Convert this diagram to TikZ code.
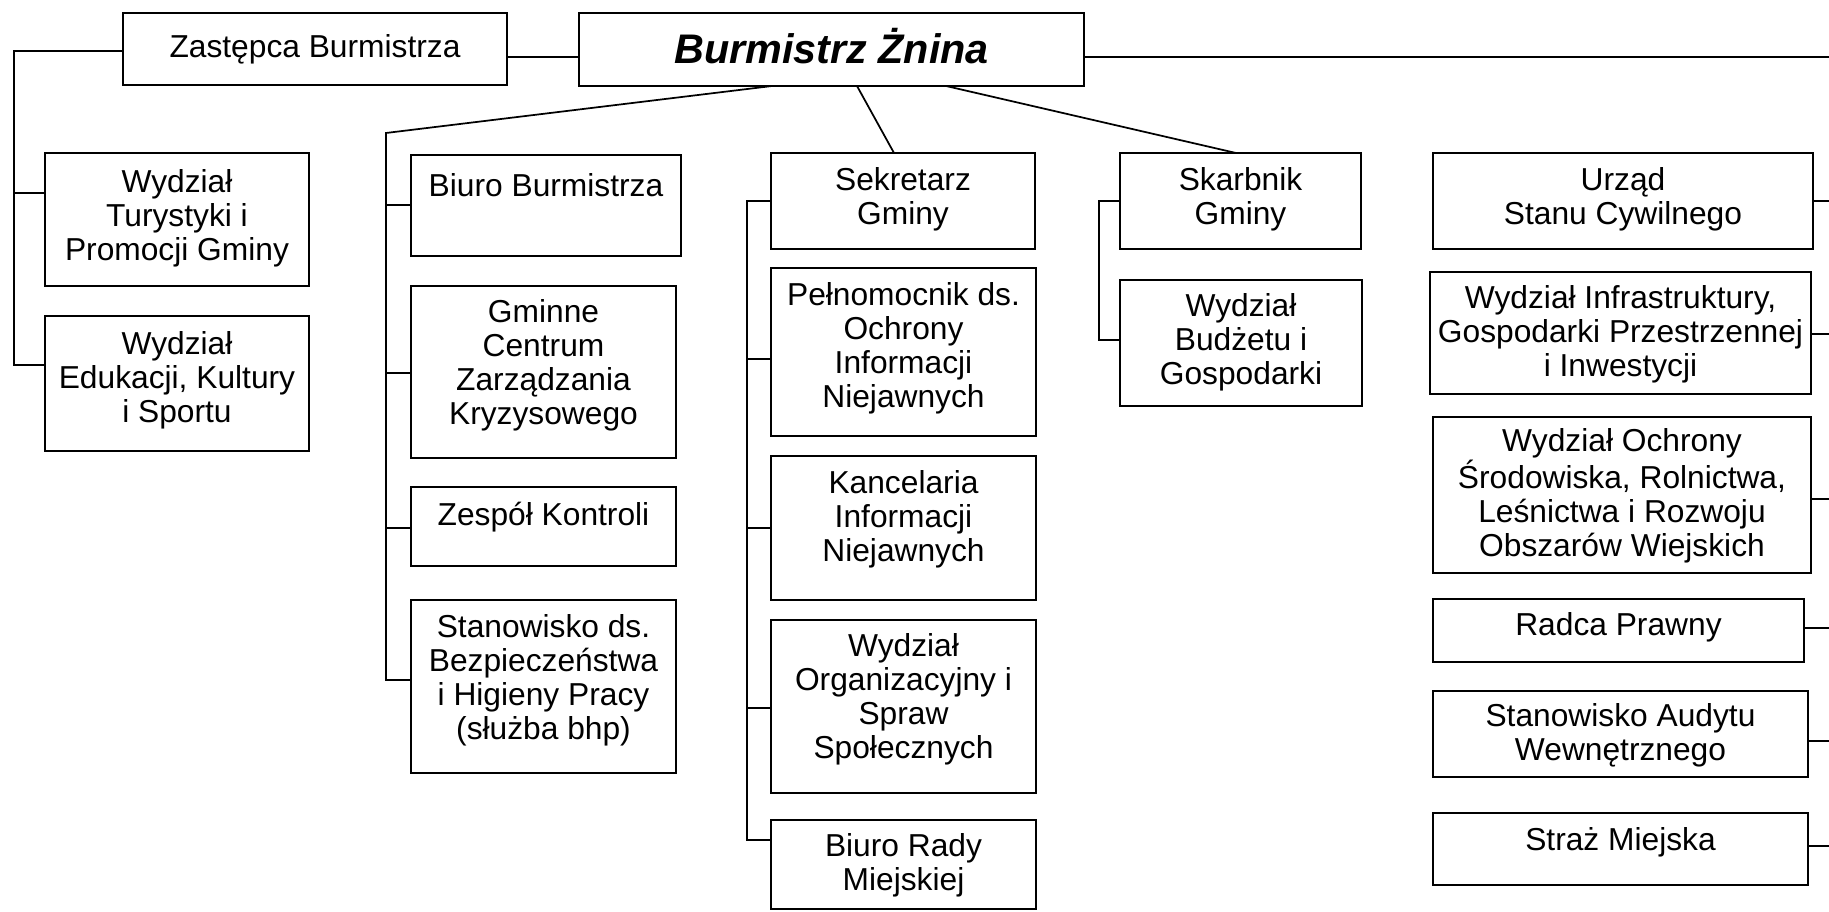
\documentclass[tikz,border=0pt]{standalone}
\usepackage{fontspec}
\setmainfont{Liberation Sans}
\begin{document}
\begin{tikzpicture}[x=0.75pt,y=-0.75pt,
  box/.style={draw=black,line width=0.8pt,rectangle,inner sep=0pt,outer sep=0pt},
  txt/.style={align=center,inner sep=0pt,font=\fontsize{23.8}{25.6}\selectfont},
  conn/.style={draw=black,line width=1.3pt}]
\useasboundingbox (0,0) rectangle (1829,912);
\newcommand\bx[7]{%
  \node[box,minimum width={(#4-#2)*0.75pt},minimum height={(#5-#3)*0.75pt}] (#1) at ({(#2+#4)/2},{(#3+#5)/2}) {};
  \node[txt] (#1-t) at ({(#2+#4)/2},{(#3+#5)/2+#6}) {#7};}
% top
\bx{Zast}{123}{13}{507}{85}{0}{Zastępca Burmistrza}
\node[box,minimum width={(1084-579)*0.75pt},minimum height={(86-13)*0.75pt}] (Burm) at ({(579+1084)/2},{(13+86)/2}) {};
\node[txt,font=\fontsize{31}{34}\selectfont\bfseries\itshape] (Burm-t) at ({(579+1084)/2},46) {Burmistrz Żnina};
% left column
\bx{Tur}{45}{153}{309}{286}{-1}{Wydział\\Turystyki i\\Promocji Gminy}
\bx{Edu}{45}{316}{309}{451}{-3}{Wydział\\Edukacji, Kultury\\i Sportu}
% Biuro column
\bx{Biuro}{411}{155}{681}{256}{-20}{Biuro Burmistrza}
\bx{Gcz}{411}{286}{676}{458}{-7}{Gminne\\Centrum\\Zarządzania\\Kryzysowego}
\bx{Zesp}{411}{487}{676}{566}{-9}{Zespół Kontroli}
\bx{BHP}{411}{600}{676}{773}{-6}{Stanowisko ds.\\Bezpieczeństwa\\i Higieny Pracy\\(służba bhp)}
% Sekretarz column
\bx{Sek}{771}{153}{1035}{249}{-2}{Sekretarz\\Gminy}
\bx{Peln}{771}{268}{1036}{436}{-4}{Pełnomocnik ds.\\Ochrony\\Informacji\\Niejawnych}
\bx{Kanc}{771}{456}{1036}{600}{-9}{Kancelaria\\Informacji\\Niejawnych}
\bx{Org}{771}{620}{1036}{793}{-7}{Wydział\\Organizacyjny i\\Spraw\\Społecznych}
\bx{BRady}{771}{820}{1036}{909}{1}{Biuro Rady\\Miejskiej}
% Skarbnik column
\bx{Skarb}{1120}{153}{1361}{249}{-2}{Skarbnik\\Gminy}
\bx{Budz}{1120}{280}{1362}{406}{-1}{Wydział\\Budżetu i\\Gospodarki}
% right column
\bx{USC}{1433}{153}{1813}{249}{-2}{Urząd\\Stanu Cywilnego}
\bx{Infra}{1430}{272}{1811}{394}{1}{Wydział Infrastruktury,\\Gospodarki Przestrzennej\\i Inwestycji}
\bx{Ochr}{1433}{417}{1811}{573}{1}{Wydział Ochrony\\Środowiska, Rolnictwa,\\Leśnictwa i Rozwoju\\Obszarów Wiejskich}
\bx{Radca}{1433}{599}{1804}{662}{-3}{Radca Prawny}
\bx{Audyt}{1433}{691}{1808}{777}{1}{Stanowisko Audytu\\Wewnętrznego}
\bx{Straz}{1433}{813}{1808}{885}{-7}{Straż Miejska}
% connectors: top
\coordinate (T0) at (0,57);
\coordinate (R0) at (1829,57);
\draw[conn] (Zast.east |- T0) -- (Burm.west |- T0);
\draw[conn] (Burm.east |- R0) -- (R0);
% left bracket
\coordinate (L0) at (14,51);
\coordinate (L1) at (14,193);
\coordinate (L2) at (14,365);
\draw[conn] (Zast.west |- L0) -- (L0) -- (L2) -- (Edu.west |- L2);
\draw[conn] (L1) -- (Tur.west |- L1);
% Biuro bracket
\coordinate (B0) at (772,0);
\coordinate (B1) at (386,133);
\coordinate (B2) at (386,205);
\coordinate (B3) at (386,373);
\coordinate (B4) at (386,528);
\coordinate (B5) at (386,680);
\draw[conn] (Burm.south -| B0) -- (B1) -- (B5) -- (BHP.west |- B5);
\draw[conn] (B2) -- (Biuro.west |- B2);
\draw[conn] (B3) -- (Gcz.west |- B3);
\draw[conn] (B4) -- (Zesp.west |- B4);
% Sekretarz
\coordinate (S0) at (857,0);
\coordinate (S1) at (894,0);
\draw[conn] (Burm.south -| S0) -- (Sek.north -| S1);
\coordinate (K0) at (747,201);
\coordinate (K1) at (747,359);
\coordinate (K2) at (747,528);
\coordinate (K3) at (747,708);
\coordinate (K4) at (747,840);
\draw[conn] (Sek.west |- K0) -- (K0) -- (K4) -- (BRady.west |- K4);
\draw[conn] (K1) -- (Peln.west |- K1);
\draw[conn] (K2) -- (Kanc.west |- K2);
\draw[conn] (K3) -- (Org.west |- K3);
% Skarbnik
\coordinate (F0) at (946,0);
\coordinate (F1) at (1236,0);
\draw[conn] (Burm.south -| F0) -- (Skarb.north -| F1);
\coordinate (G0) at (1099,201);
\coordinate (G1) at (1099,340);
\draw[conn] (Skarb.west |- G0) -- (G0) -- (G1) -- (Budz.west |- G1);
% right connectors
\coordinate (E1) at (1829,201);
\coordinate (E2) at (1829,334);
\coordinate (E3) at (1829,499);
\coordinate (E4) at (1829,628);
\coordinate (E5) at (1829,741);
\coordinate (E6) at (1829,846);
\draw[conn] (USC.east |- E1) -- (E1);
\draw[conn] (Infra.east |- E2) -- (E2);
\draw[conn] (Ochr.east |- E3) -- (E3);
\draw[conn] (Radca.east |- E4) -- (E4);
\draw[conn] (Audyt.east |- E5) -- (E5);
\draw[conn] (Straz.east |- E6) -- (E6);
\end{tikzpicture}
\end{document}
